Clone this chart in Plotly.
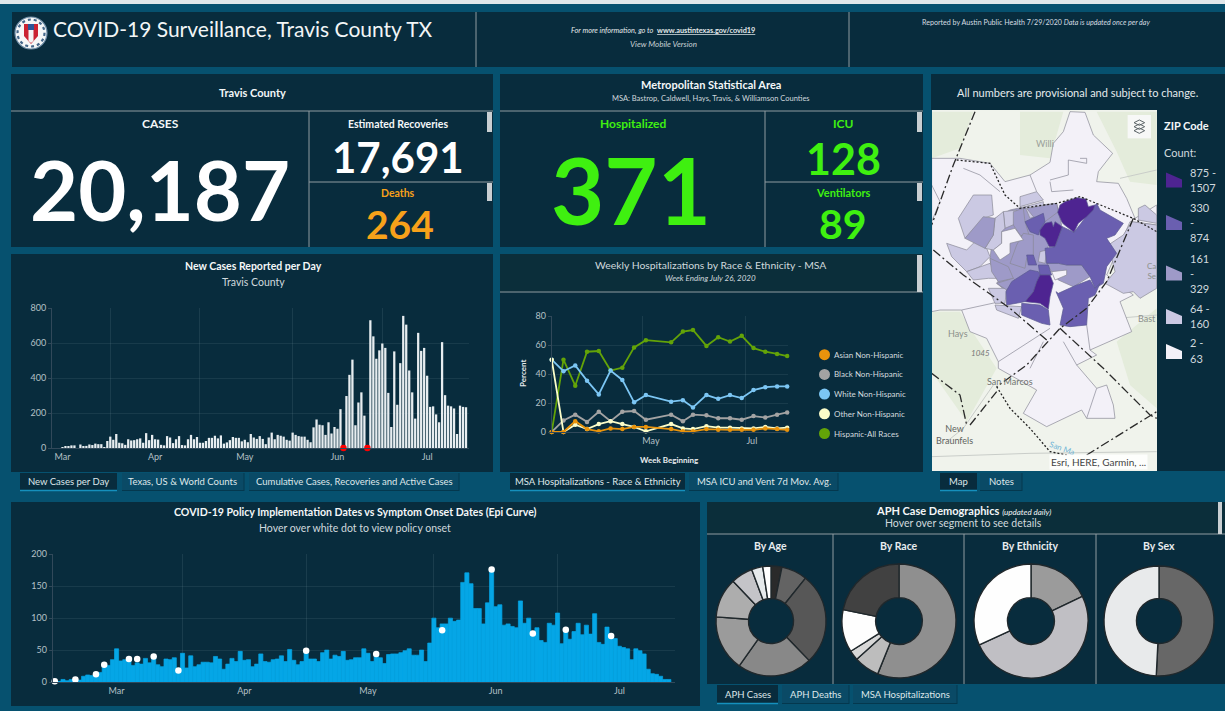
import plotly.graph_objects as go
import pandas as pd

W, H = 1225, 711
PAGE = "#06516f"; PANEL = "#082c3d"; HEADPANEL = "#0b2e3a"; TAB = "#0a4a66"
RULE = "#8f9ba1"; GREEN = "#3ff010"; ORANGE = "#f7a11a"; TXT = "#f4f7f8"; SUB = "#d0d9dd"; TICK = "#b4c0c6"
FONT = "Lato"

# ---------- data ----------
new_cases = [0,0,0,4,10,8,15,15,0,20,
             8,12,20,17,25,22,22,5,40,65,
             47,80,30,27,18,50,43,45,50,55,
             30,85,45,75,50,48,18,15,68,60,
             28,50,68,17,15,50,75,50,63,30,
             30,40,58,58,70,55,72,25,32,45,
             63,58,58,38,47,33,80,60,52,68,
             52,22,60,88,50,75,70,65,47,42,
             88,75,68,65,65,47,33,118,163,133,
             130,75,147,83,120,110,222,0,297,418,
             505,130,260,318,185,0,730,638,510,558,
             597,572,315,120,552,247,485,755,705,443,
             318,168,658,555,572,413,235,238,192,147,
             605,302,242,238,226,80,242,235,233]
new_cases_start = "2020-03-13"
red_dates = ["2020-06-18", "2020-06-26"]
red_vals = [0, 0]

week_dates = ["2020-03-08","2020-03-15","2020-03-22","2020-03-29","2020-04-05","2020-04-12","2020-04-19",
              "2020-04-26","2020-05-03","2020-05-18","2020-05-25","2020-05-31","2020-06-08","2020-06-15",
              "2020-06-22","2020-06-29","2020-07-06","2020-07-13","2020-07-20","2020-07-26"]
asian = [0,0,7.5,2,0.5,2.5,2,3.5,3.5,2,0.5,0.5,2,1.5,1.5,1.5,1.5,2.5,2,1.5]
black = [0,8,12,7,14,7.5,14,14.5,8.5,12,7.5,12,11.5,9.5,9.5,8.5,11,10,12,13.5]
white = [50,42,46,35.5,26,42.5,36,20.5,25.5,21,22,17,25.5,23,25.5,23.5,29,31,31.5,31.5]
other = [50,0,5,2,5.5,7.5,5.5,3.5,0.5,5.5,2.5,2,4,3,3,2.5,2.5,3.5,2.5,3]
hispanic = [0,50,32,55.5,56,42.5,44.5,58.5,63.5,62,69.5,70.5,59.5,65.5,62.5,66.5,58,55.5,54,52.5]
race_names = ["Asian Non-Hispanic","Black Non-Hispanic","White Non-Hispanic","Other Non-Hispanic","Hispanic-All Races"]

epi = [1,1,4,2,4,3,3,9,11,10,
       13,15,25,26,35,52,33,35,37,26,
       30,28,37,30,40,27,24,36,35,38,
       18,45,22,41,24,27,31,31,30,40,
       36,20,28,37,32,48,34,35,24,28,
       44,32,31,35,36,41,32,51,34,27,
       32,48,36,36,32,46,50,36,42,40,
       48,34,35,38,38,52,45,32,42,38,
       29,43,44,44,46,49,52,42,42,50,
       32,61,100,85,91,91,100,95,97,156,
       171,154,115,115,91,124,176,118,121,89,
       91,87,85,127,92,100,76,85,65,62,
       92,89,108,60,82,67,79,92,74,89,
       75,107,62,59,86,72,68,56,54,52,
       35,52,49,44,20,13,12,9,4,4]
epi_start = "2020-03-01"
policy_dates = ["2020-03-01","2020-03-06","2020-03-11","2020-03-13","2020-03-19","2020-03-21","2020-03-25","2020-03-31",
                "2020-05-01","2020-05-18","2020-06-03","2020-06-15","2020-06-25","2020-07-03","2020-07-14"]
policy_vals = [1,4,12,27,36,36,40,18,49,44,81,176,76,82,72]

age_pct = [3.2,7.6,27,22,16.4,11.7,6.4,3.3,2.4]
race_pct = [56.1,7.2,2.8,12.1,21.8]
eth_pct = [17.9,50.2,31.9]
sex_pct = [50.8,49.2]

month_ticks = ["2020-03-16","2020-04-16","2020-05-16","2020-06-16","2020-07-16"]
month_labels = ["Mar","Apr","May","Jun","Jul"]
month_grid = ["2020-04-01","2020-05-01","2020-06-01","2020-07-01"]

# ZIP areas of the map, in map units
zip_base = [[(5,250),(90,250),(180,265),(225,320),(300,300),(360,262),(370,205),(400,170),(420,110),(465,112),(490,180),
             (548,235),(505,290),(500,320),(565,325),(590,370),(615,430),(680,390),(680,450),(600,440),(530,600),(610,660),
             (570,680),(605,770),(480,825),(500,840),(440,870),(500,940),(530,930),(550,990),(555,1030),(470,1030),(455,1005),
             (350,1055),(280,1015),(320,945),(205,880),(205,860),(170,790),(120,770),(95,705),(30,705),(5,710)]]
zip_core = [[(180,550),(195,430),(240,405),(285,395),(380,385),(395,450),(345,530),(360,600),(325,600),(250,620),(230,650),(200,625),(205,618),(185,590)]]
zip_white = [[(365,590),(410,585),(410,600),(375,615)],
             [(215,470),(255,460),(280,495),(240,505),(240,535),(210,555),(190,525),(215,505)]]
zip_c1 = [[(605,440),(680,450),(680,640),(630,670),(610,650),(580,655),(525,625),(555,590),(535,510),(580,480)],
          [(625,400),(645,390),(680,420),(680,445),(625,435)],
          [(50,505),(110,525),(135,500),(170,520),(180,545),(150,575),(110,590),(65,545)],
          [(110,590),(180,565),(210,610),(175,610),(130,615)],
          [(130,360),(185,360),(190,420),(160,430),(105,490),(85,430)],
          [(270,365),(320,350),(340,375),(270,395)],
          [(285,395),(340,380),(340,415),(300,430)],
          [(220,410),(260,405),(260,445),(225,460)],
          [(195,430),(220,410),(225,460),(215,470),(215,505),(190,525),(165,520),(190,480)],
          [(175,640),(230,640),(225,685),(195,685)],
          [(195,690),(275,695),(265,730),(200,705)],
          [(330,530),(350,525),(345,565),(325,560)]]
zip_c2 = [[(105,490),(160,425),(195,430),(190,480),(165,520),(135,505)],
          [(250,410),(280,400),(285,440),(300,490),(270,480),(250,450)],
          [(290,400),(380,385),(385,410),(345,440),(310,425)],
          [(280,475),(310,480),(310,545),(290,550),(285,580),(240,565),(260,510)],
          [(180,550),(235,575),(250,610),(205,620),(185,590)],
          [(200,625),(250,610),(255,615),(230,645)],
          [(350,565),(385,565),(410,570),(455,570),(480,605),(430,635),(385,615),(365,590)]]
zip_c3 = [[(432,472),(470,425),(500,385),(510,405),(580,445),(555,480),(530,490),(560,535),(530,575),(520,625),(495,640),(480,605),(455,570),(410,570),(385,565),(350,565),(345,520),(375,515),(397,455)],
          [(385,655),(440,630),(480,615),(495,640),(510,625),(495,660),(475,670),(470,750),(420,755),(390,750),(400,700),(378,650)],
          [(325,570),(355,570),(365,600),(330,600)],
          [(245,620),(300,585),(325,590),(330,600),(310,650),(285,680),(230,690),(228,650)],
          [(275,685),(330,690),(355,705),(360,750),(335,745),(275,720)],
          [(285,440),(340,415),(345,440),(330,465),(325,480),(300,470)],
          [(290,540),(310,540),(320,570),(295,570)]]
zip_c4 = [[(383,412),(390,390),(405,380),(440,368),(468,372),(475,395),(495,390),(490,405),(470,425),(445,445),(432,472),(400,447),(395,440)],
          [(330,465),(345,445),(365,440),(370,455),(375,440),(397,455),(375,515),(358,515),(345,490),(330,480)],
          [(330,600),(360,600),(370,625),(360,665),(355,703),(330,685),(285,680),(310,650),(320,620)]]
zip_lines = [[(360,315),(415,300),(415,255),(470,265),(470,250),(450,250)],
             [(300,300),(320,350)], [(360,320),(365,350),(430,345)], [(100,280),(150,300),(210,350)],
             [(5,330),(30,380),(5,440)], [(95,705),(210,680)], [(300,880),(340,800)], [(400,800),(440,870)],
             [(470,1030),(500,940)], [(205,860),(360,760)], [(480,825),(470,750)]]
land_green = [[(5,710),(90,710),(140,790),(200,880),(110,1040),(5,890)],
              [(5,110),(130,110),(90,220),(5,250)],
              [(500,110),(680,110),(680,330),(600,320),(560,230)],
              [(270,110),(400,110),(360,250),(270,240)],
              [(560,800),(680,700),(680,1000),(600,930)]]
county_lines = [[(135,110),(70,270),(5,450)],
                [(10,525),(100,600),(240,700),(350,795)],
                [(390,760),(520,880),(660,1020),(680,1030)],
                [(610,430),(530,620),(470,700),(390,760),(290,870),(200,935)],
                [(120,1050),(200,950)],
                [(5,895),(90,960),(110,1050)],
                [(470,1140),(680,1010)]]
county_north = [[(80,255),(180,265),(225,360),(270,400),(380,385),(450,365),(610,430),(680,470)],
                [(200,935),(240,1000),(300,1060),(360,1130),(410,1140)]]
roads = [[(5,1145),(300,1135),(680,1130)], [(190,930),(100,1060),(50,1100)], [(560,730),(680,720)], [(570,310),(680,285)]]

map_legend_labels = [["875 -","1507"],["330","-","874"],["161","-","329"],["64 -","160"],["2 -","63"]]

# ---------- helpers ----------
def X(a): return a / W
def Y(b): return 1 - b / H
shapes, notes = [], []

def rect(x0, y0, x1, y1, fill):
    shapes.append(dict(type="rect", xref="paper", yref="paper", x0=X(x0), x1=X(x1), y0=Y(y0), y1=Y(y1),
                       fillcolor=fill, line=dict(width=0), layer="below"))
def line(x0, y0, x1, y1, color=RULE, width=1):
    shapes.append(dict(type="line", xref="paper", yref="paper", x0=X(x0), x1=X(x1), y0=Y(y0), y1=Y(y1),
                       line=dict(color=color, width=width), layer="below"))
def circle(cx, cy, r, fill, lc=None, lw=0, dash="solid"):
    shapes.append(dict(type="circle", xref="paper", yref="paper", x0=X(cx-r), x1=X(cx+r), y0=Y(cy+r), y1=Y(cy-r),
                       fillcolor=fill, line=dict(width=lw, color=lc or fill, dash=dash), layer="above"))
def poly(pts, fill):
    p = "M" + " L".join(f"{X(a):.5f},{Y(b):.5f}" for a, b in pts) + " Z"
    shapes.append(dict(type="path", xref="paper", yref="paper", path=p, fillcolor=fill, line=dict(width=0), layer="above"))
def text(x, y, s, size=10, color=TXT, bold=False, anchor="center", angle=0, bg=None):
    notes.append(dict(x=X(x), y=Y(y), xref="paper", yref="paper", text=s, showarrow=False, xanchor=anchor, yanchor="middle",
                      textangle=angle, bgcolor=bg, borderpad=0,
                      font=dict(family=FONT, size=size, color=color, weight=700 if bold else 400)))
def tabs(y0, y1, items):
    for x0, x1, label, active in items:
        rect(x0, y0, x1, y1, PANEL if active else TAB)
        if active:
            line(x0, y1-0.5, x1, y1-0.5, "#1590bd", 1.5)
        else:
            line(x1, y0, x1, y1, "#04384e", 1); line(x0, y1-0.5, x1, y1-0.5, "#04384e", 1)
        text((x0+x1)/2, (y0+y1)/2-0.5, label, 9.5, "#dfe7ea")

# ---------- panels ----------
rect(0, 0, W, 4, "#dfe7ea")
rect(12, 12, W, 67, PANEL); line(476, 12, 476, 67); line(849, 12, 849, 67)
rect(11, 74, 493, 247, PANEL); line(11, 111, 493, 111); line(309, 111, 309, 247); line(309, 182, 493, 182)
rect(487, 112, 492, 132, "#c9cfd2"); rect(487, 183, 492, 201, "#c9cfd2")
rect(500, 74, 923, 247, PANEL); line(500, 111, 923, 111); line(765, 111, 765, 247); line(765, 182, 923, 182)
rect(917, 112, 922, 132, "#c9cfd2"); rect(917, 183, 922, 201, "#c9cfd2")
rect(931, 74, W, 110, PANEL); rect(1157, 110, W, 471, PANEL); rect(932, 110, 1157, 471, "#f0f3ec")
rect(11, 254, 493, 472, PANEL)
rect(500, 254, 923, 472, PANEL); rect(500, 254, 923, 292, HEADPANEL); line(500, 292, 923, 292); rect(917, 255, 922, 292, "#c9cfd2")
rect(11, 502, 700, 706, PANEL)
rect(707, 502, W, 684, PANEL); rect(707, 502, W, 534, HEADPANEL); line(707, 534, W, 534)
for vx in (833, 964, 1096):
    line(vx, 534, vx, 684)
rect(1218, 502, 1222, 534, "#c9cfd2")

tabs(473, 491, [(20,117,"New Cases per Day",True),(122,244,"Texas, US &amp; World Counts",False),(249,459,"Cumulative Cases, Recoveries and Active Cases",False)])
tabs(473, 491, [(510,685,"MSA Hospitalizations - Race &amp; Ethnicity",True),(689,838,"MSA ICU and Vent 7d Mov. Avg.",False)])
tabs(473, 491, [(940,977,"Map",True),(980,1022,"Notes",False)])
tabs(685, 704, [(717,778,"APH Cases",True),(782,849,"APH Deaths",False),(853,957,"MSA Hospitalizations",False)])

# ---------- logo ----------
circle(31, 33, 16, "#f6f7f7", "#6f8ea8", 1.2)
circle(31, 33, 13.5, "rgba(0,0,0,0)", "#44678a", 2.2, "dot")
poly([(24,24),(38,24),(38,36),(31,44),(24,36)], "#cb2231")
poly([(28,24),(34,24),(34,30),(28,30)], "#2b5597")
poly([(28.5,30),(33.5,30),(33.5,41),(31,43),(28.5,41)], "#f4f4f4")

# ---------- text ----------
text(52, 29, "COVID-19 Surveillance, Travis County TX", 21, "#f2f5f6", anchor="left")
text(663, 30, "<i>For more information, go to</i>  <b><u>www.austintexas.gov/covid19</u></b>", 7.3, "#e4eaec")
text(663, 44, "<i>View Mobile Version</i>", 8, "#c8d2d6")
text(1036, 22, "Reported by Austin Public Health 7/29/2020 <i>Data is updated once per day</i>", 7.1, "#d6dee2")
text(252, 93, "Travis County", 11, TXT, True)
text(160, 123, "CASES", 12, TXT, True)
text(160, 189, "20,187", 83, "#ffffff", True)
text(398, 124, "Estimated Recoveries", 10.5, TXT, True)
text(398, 157, "17,691", 42, "#ffffff", True)
text(398, 193, "Deaths", 10.5, ORANGE, True)
text(400, 224, "264", 39, ORANGE, True)
text(711, 85, "Metropolitan Statistical Area", 11, TXT, True)
text(711, 98, "MSA: Bastrop, Caldwell, Hays, Travis, &amp; Williamson Counties", 7.5, SUB)
text(633, 123, "Hospitalized", 12, GREEN, True)
text(631, 190, "371", 92, GREEN, True)
text(843, 123, "ICU", 12, GREEN, True)
text(843, 158, "128", 43, GREEN, True)
text(843, 192, "Ventilators", 11, GREEN, True)
text(843, 223, "89", 41, GREEN, True)
text(1077, 93, "All numbers are provisional and subject to change.", 11, "#e4eaec")
text(253, 266, "New Cases Reported per Day", 10.5, TXT, True)
text(253, 282, "Travis County", 10.5, SUB)
text(710, 265, "Weekly Hospitalizations by Race &amp; Ethnicity - MSA", 10.4, SUB)
text(710, 278, "<i>Week Ending July 26, 2020</i>", 8, SUB)
text(523, 374, "Percent", 8, "#e8edef", True, angle=-90)
text(669, 460, "Week Beginning", 8, "#e8edef", True)
text(355, 512, "COVID-19 Policy Implementation Dates vs Symptom Onset Dates (Epi Curve)", 10.6, TXT, True)
text(355, 528, "Hover over white dot to view policy onset", 10.5, SUB)
text(963, 511, "<b>APH Case Demographics</b> <i><span style='font-size:8px'>(updated daily)</span></i>", 11, TXT)
text(963, 523, "Hover over segment to see details", 10.5, SUB)
for cx, lab in ((770,"By Age"),(899,"By Race"),(1030,"By Ethnicity"),(1159,"By Sex")):
    text(cx, 546, lab, 10.5, "#e8edef", True)

# line-chart legend
race_colors = ["#e8930c", "#a3a3a3", "#7cc6f4", "#fbfdc9", "#63a308"]
for i, (n, c) in enumerate(zip(race_names, race_colors)):
    yy = 354.7 + i * 19.7
    circle(824.5, yy, 5.5, c)
    text(833, yy, n, 8, "#d3dbdf", anchor="left")

# map legend
text(1163, 125, "ZIP Code", 11, TXT, True, anchor="left")
text(1163, 152.5, "Count:", 11, SUB, anchor="left")
legend_cols = ["#4e2491", "#6a5fb0", "#9e9ac8", "#cbc9e3", "#f3f1f8"]
leg_tops = [172.5, 215, 265.5, 309, 344]
first_text = [172, 207, 258, 308, 343]
for cols, top, ft, labs in zip(legend_cols, leg_tops, first_text, map_legend_labels):
    poly([(1166,top),(1182,top+7),(1182,top+15),(1166,top+15)], cols)
    for j, l in enumerate(labs):
        text(1189, ft + j*15.3, l, 11, SUB, anchor="left")

# ---------- traces ----------
fig = go.Figure()
nc_dates = pd.date_range(new_cases_start, periods=len(new_cases)).strftime("%Y-%m-%d").tolist()
fig.add_trace(go.Bar(x=nc_dates, y=new_cases, marker=dict(color="#e7edf0", line=dict(width=0)), xaxis="x", yaxis="y", width=86400000*0.76))
fig.add_trace(go.Scatter(x=red_dates, y=red_vals, mode="markers", marker=dict(color="#ff0000", size=6.5), xaxis="x", yaxis="y", cliponaxis=False))

order = [(race_names[4], hispanic, race_colors[4]), (race_names[1], black, race_colors[1]), (race_names[2], white, race_colors[2]),
         (race_names[3], other, race_colors[3]), (race_names[0], asian, race_colors[0])]
for name, s, c in order:
    fig.add_trace(go.Scatter(x=week_dates, y=s, name=name, mode="lines+markers", line=dict(color=c, width=1.8),
                             marker=dict(color=c, size=4.5), xaxis="x2", yaxis="y2", cliponaxis=False))

epi_dates = pd.date_range(epi_start, periods=len(epi)).strftime("%Y-%m-%d").tolist()
fig.add_trace(go.Bar(x=epi_dates, y=epi, marker=dict(color="#05a6e6", line=dict(width=0.7, color="#05a6e6")), xaxis="x3", yaxis="y3", width=86400000))
fig.add_trace(go.Scatter(x=policy_dates, y=policy_vals, mode="markers", marker=dict(color="#ffffff", size=6.5), xaxis="x3", yaxis="y3", cliponaxis=False))

def map_fill(polys, fill, lc="#8a8a96", lw=0.7):
    for p in polys:
        xs = [a for a, _ in p] + [p[0][0]]
        ys = [b for _, b in p] + [p[0][1]]
        fig.add_trace(go.Scatter(x=xs, y=ys, mode="lines", fill="toself", fillcolor=fill, line=dict(color=lc, width=lw), xaxis="x4", yaxis="y4"))
def map_line(lines, color, width, dash):
    for p in lines:
        fig.add_trace(go.Scatter(x=[a for a, _ in p], y=[b for _, b in p], mode="lines", line=dict(color=color, width=width, dash=dash), xaxis="x4", yaxis="y4"))

map_fill(land_green, "#e4ecdb", "rgba(0,0,0,0)", 0)
map_line(roads, "#c9cdc9", 1, "solid")
map_fill(zip_base, "#f3f1f8")
map_line(zip_lines, "#8a8a96", 0.7, "solid")
map_fill(zip_core, "#9e9ac8")
map_fill(zip_c1, "#cbc9e3")
map_fill(zip_c2, "#9e9ac8")
map_fill(zip_c3, "#6a5fb0", "#5a5a90")
map_fill(zip_c4, "#4e2491", "#5a5a90")
map_fill(zip_white, "#f3f1f8")
map_line(county_lines, "#2a2a2a", 1.3, "9px,3px,2px,3px")
map_line(county_north, "#222222", 1.3, "2px,2px")

pie_border = dict(color="#20282c", width=1.4)
def donut(vals, cols, cx, cy, r):
    fig.add_trace(go.Pie(values=vals, marker=dict(colors=cols, line=pie_border), hole=0.41, sort=False, direction="clockwise",
                         rotation=0, textinfo="none", domain=dict(x=[X(cx-r), X(cx+r)], y=[Y(cy+r), Y(cy-r)])))
donut(age_pct, ["#2a2a2a","#636363","#575757","#888888","#9b9b9b","#adadad","#c4c4c8","#e6eaec","#ffffff"], 771, 621, 55)
donut(race_pct, ["#8f8f8f","#bdbdbd","#d8d8d8","#fefefe","#414141"], 899, 621, 57)
donut(eth_pct, ["#9b9b9b","#c0bfc4","#fefefe"], 1031, 621, 57)
donut(sex_pct, ["#676767","#e8eaeb"], 1159, 621, 55)

# map labels & controls
for x, y, s, sz, col in ((345,205,"Willi",9,"#9aa09a"),(85,775,"Hays",9,"#8b908b"),(150,833,"<i>1045</i>",8,"#777777"),
                         (240,918,"San Marcos",9,"#6f7370"),(72,1078,"New<br>Braunfels",9,"#5f6360"),
                         (650,730,"Bast",9,"#8b908b"),(663,587,"Ca<br>Se",8,"#8b908b")):
    notes.append(dict(x=x, y=y, xref="x4", yref="y4", text=s, showarrow=False, font=dict(family=FONT, size=sz, color=col)))
notes.append(dict(x=395, y=1120, xref="x4", yref="y4", text="San Ma", showarrow=False, textangle=20, font=dict(family=FONT, size=8, color="#6fb4d6")))
shapes.append(dict(type="rect", xref="x4", yref="y4", x0=593, x1=663, y0=120, y1=190, fillcolor="#f7f8f7", line=dict(width=0), layer="above"))
for off in (0, 12, 24):
    shapes.append(dict(type="path", xref="x4", yref="y4",
                       path=f"M612,{143+off} L628,{135+off} L644,{143+off} L628,{151+off} Z",
                       fillcolor="rgba(0,0,0,0)", line=dict(color="#5c6468", width=1), layer="above"))
notes.append(dict(x=505, y=1162, xref="x4", yref="y4", text="Esri, HERE, Garmin, ...", showarrow=False, bgcolor="rgba(255,255,255,0.85)",
                  borderpad=1, font=dict(family=FONT, size=10, color="#444444")))

# ---------- axes ----------
def time_axis(rng, dom, anchor, ticks=month_ticks, labels=month_labels, grid=month_grid):
    return dict(type="date", range=rng, domain=dom, anchor=anchor, tickmode="array", tickvals=ticks, ticktext=labels, showgrid=False,
                automargin=False, ticks="", tickfont=dict(family=FONT, size=9, color=TICK), showline=True, linecolor="#31495a", linewidth=1, zeroline=False,
                minor=dict(tickmode="array", tickvals=grid, showgrid=True, gridcolor="rgba(140,170,180,0.14)", gridwidth=1, ticks=""))
def val_axis(rng, dtick, dom, anchor):
    return dict(range=rng, dtick=dtick, domain=dom, anchor=anchor, showgrid=True, gridcolor="rgba(140,170,180,0.12)", gridwidth=1,
                automargin=False, zeroline=False, showline=True, linecolor="#31495a", linewidth=1, ticks="outside", ticklen=3, tickcolor="#31495a",
                tickfont=dict(family=FONT, size=9, color=TICK))

fig.update_layout(
    template="none",
    width=W, height=H, margin=dict(l=0, r=0, t=0, b=0, pad=0), autosize=False, showlegend=False, hovermode="closest",
    paper_bgcolor=PAGE, plot_bgcolor="rgba(0,0,0,0)", barmode="overlay", font=dict(family=FONT),
    shapes=shapes, annotations=notes,
    xaxis=time_axis(["2020-03-12 12:00", "2020-07-30"], [X(52), X(469)], "y"),
    yaxis=val_axis([0, 800], 200, [Y(448), Y(308)], "x"),
    xaxis2=time_axis(["2020-03-08", "2020-07-26 12:00"], [X(551.7), X(788)], "y2", ["2020-05-06", "2020-07-05"], ["May", "Jul"], ["2020-05-01", "2020-07-01"]),
    yaxis2=val_axis([0, 80], 20, [Y(432), Y(316.3)], "x2"),
    xaxis3=time_axis(["2020-02-29 12:00", "2020-07-29 12:00"], [X(52.7), X(675)], "y3"),
    yaxis3=val_axis([0, 200], 50, [Y(682), Y(554.3)], "x3"),
    xaxis4=dict(range=[6, 681], domain=[X(932), X(1157)], anchor="y4", visible=False, fixedrange=True, automargin=False),
    yaxis4=dict(range=[1188, 105], domain=[Y(471), Y(110)], anchor="x4", visible=False, fixedrange=True, automargin=False),
)
fig.write_html("out.html", config={"displayModeBar": False},
               post_script="document.body.style.margin='0';document.body.style.overflow='hidden';")
